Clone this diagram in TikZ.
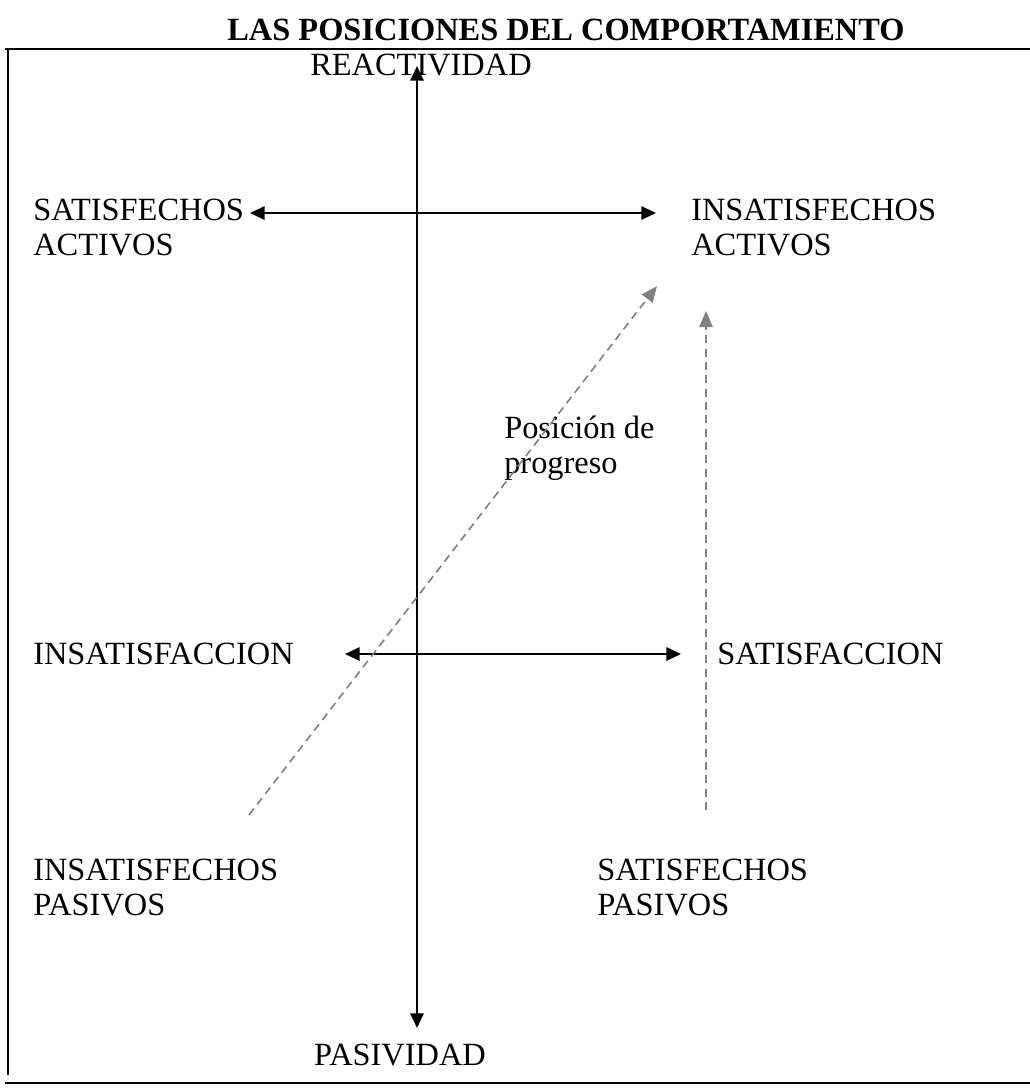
\documentclass[tikz,border=0pt]{standalone}
\usepackage{fontspec}
\setmainfont{Liberation Serif}
\usepackage{tikz}
\usetikzlibrary{arrows.meta}

\begin{document}
\begin{tikzpicture}[x=0.75pt,y=-0.75pt,
        lbl/.style={inner sep=0pt,anchor=base west,align=left,
            font=\fontsize{24.3}{26.25}\selectfont},
        axis/.style={line width=1.5pt,{Triangle[length=11pt,width=10pt]}-{Triangle[length=11pt,width=10pt]}},
        move/.style={gray,line width=1.2pt,dash pattern=on 6pt off 4pt,-{Triangle[length=12pt,width=10pt]}},
        %frame/.style={draw,line width=1.2pt},
    ]
    \useasboundingbox (0,0) rectangle (1030,1089);
    % frame (open on the right)
    \draw[line width=1.3pt] (1030,49) -- (5,49);
    \draw[line width=1.2pt] (8,49) -- (8,1075);
    \draw[line width=1.3pt] (5,1083) -- (1030,1083);
    \node[inner sep=0pt,anchor=base,font=\fontsize{24.3}{26}\selectfont\bfseries] (title) at (566,40)
        {LAS POSICIONES DEL COMPORTAMIENTO};
    % labels (base = last line)
    \node[lbl,anchor=base] (reac) at (421,75) {REACTIVIDAD};
    \node[lbl,anchor=base] (pasiv) at (400,1065) {PASIVIDAD};
    \node[lbl] (satact) at (33,255) {SATISFECHOS\\ACTIVOS};
    \node[lbl] (insact) at (691,255) {INSATISFECHOS\\ACTIVOS};
    \node[lbl] (insf) at (33,664) {INSATISFACCION};
    \node[lbl] (satf) at (717,664) {SATISFACCION};
    \node[lbl] (inspas) at (33,915) {INSATISFECHOS\\PASIVOS};
    \node[lbl] (satpas) at (597,915) {SATISFECHOS\\PASIVOS};
    \node[lbl] (prog) at (504,473) {Posición de\\progreso};
    % axes
    \coordinate (top) at (417,66);
    \coordinate (bot) at (417,1028);
    \coordinate (a1) at (250,213);
    \coordinate (a2) at (656,213);
    \coordinate (b1) at (345,654);
    \coordinate (b2) at (681,654);
    \draw[axis] (bot) -- (top);
    \draw[axis] (a1) -- (a2);
    \draw[axis] (b1) -- (b2);
    % dashed moves
    \coordinate (d1) at (249,815);
    \coordinate (d2) at (657,286);
    \coordinate (e1) at (706,810);
    \coordinate (e2) at (706,311);
    \draw[move] (d1) -- (d2);
    \draw[move] (e1) -- (e2);
\end{tikzpicture}
\end{document}
